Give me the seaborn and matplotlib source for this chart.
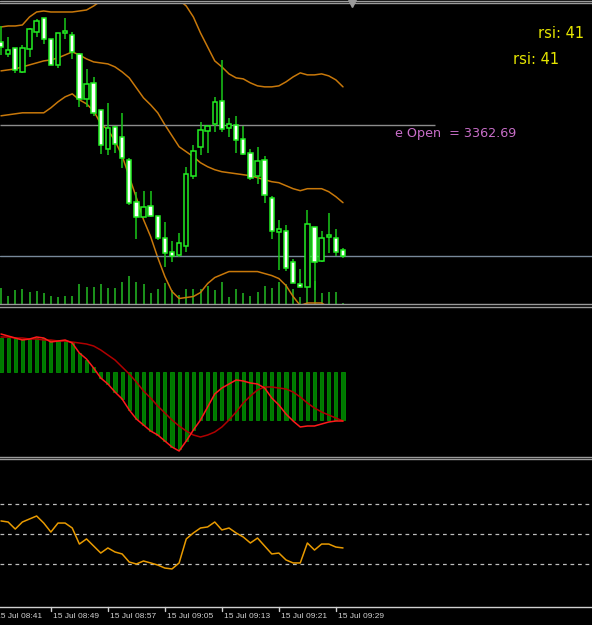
import matplotlib
matplotlib.use('Agg')
import matplotlib.pyplot as plt
import matplotlib.transforms as mtransforms
from matplotlib.lines import Line2D
import seaborn as sns
import numpy as np

# 1-minute bars, 15 Jul 08:42 .. 09:30
open_ = [3371.0, 3369.8, 3370.4, 3368.0, 3370.3, 3372.0, 3373.4, 3371.3, 3368.7, 3371.9,
         3371.7, 3369.8, 3365.3, 3366.9, 3364.2, 3360.3, 3362.5, 3361.5, 3359.2, 3355.0,
         3353.5, 3354.6, 3353.6, 3351.4, 3350.0, 3349.7, 3350.6, 3357.6, 3360.5, 3362.1,
         3362.8, 3365.1, 3362.4, 3362.7, 3361.3, 3359.9, 3357.6, 3359.2, 3355.4, 3352.0,
         3352.1, 3349.0, 3346.8, 3346.5, 3352.5, 3349.1, 3351.5, 3351.4, 3350.2]
high = [3372.6, 3371.5, 3370.4, 3370.7, 3372.4, 3373.3, 3373.4, 3371.3, 3371.9, 3373.4,
        3372.0, 3369.9, 3368.3, 3367.5, 3364.2, 3364.9, 3362.6, 3363.9, 3359.4, 3356.0,
        3356.1, 3356.1, 3353.6, 3353.0, 3351.1, 3351.9, 3358.5, 3360.7, 3363.0, 3362.6,
        3365.5, 3369.2, 3363.4, 3363.6, 3362.6, 3360.3, 3360.5, 3359.6, 3355.6, 3353.2,
        3352.7, 3349.3, 3348.3, 3354.2, 3352.5, 3352.1, 3353.9, 3352.3, 3350.4]
low = [3369.7, 3369.5, 3367.9, 3367.9, 3369.5, 3371.5, 3370.8, 3368.7, 3368.4, 3371.3,
       3369.3, 3364.5, 3364.5, 3363.6, 3359.8, 3359.7, 3359.9, 3358.4, 3354.7, 3351.3,
       3353.5, 3353.5, 3351.2, 3348.5, 3349.0, 3349.5, 3350.0, 3357.3, 3359.7, 3359.9,
       3362.0, 3362.0, 3361.5, 3359.9, 3359.7, 3357.2, 3356.8, 3354.9, 3351.3, 3348.2,
       3348.1, 3346.9, 3346.5, 3346.4, 3346.2, 3349.0, 3349.9, 3349.6, 3349.4]
close = [3370.5, 3370.2, 3368.2, 3370.4, 3372.3, 3373.1, 3371.3, 3368.7, 3371.9, 3372.1,
         3370.0, 3365.3, 3366.8, 3363.9, 3360.7, 3362.4, 3360.8, 3359.4, 3354.9, 3353.5,
         3354.5, 3353.6, 3351.4, 3349.9, 3349.6, 3350.9, 3357.8, 3360.1, 3362.2, 3362.6,
         3365.0, 3362.3, 3362.8, 3361.2, 3359.8, 3357.4, 3359.1, 3355.7, 3352.1, 3352.3,
         3348.4, 3346.9, 3346.5, 3352.8, 3349.0, 3351.4, 3351.5, 3350.0, 3349.6]
volume = [160, 80, 140, 150, 120, 130, 110, 80, 70, 80,
          80, 200, 170, 170, 200, 160, 160, 220, 280, 220,
          200, 110, 150, 210, 140, 90, 150, 150, 150, 180,
          140, 220, 70, 150, 110, 80, 120, 180, 160, 220,
          200, 150, 70, 190, 230, 110, 120, 120, 10]

# Bollinger bands
bb_upper = [3372.5, 3372.6, 3372.6, 3372.7, 3373.5, 3374.0, 3374.1, 3374.0, 3374.0, 3374.0,
            3374.0, 3374.1, 3374.2, 3374.6, 3375.1, 3375.5, 3375.8, 3376.0, 3376.2, 3376.3,
            3376.3, 3376.2, 3376.0, 3375.8, 3375.5, 3375.2, 3374.6, 3373.5, 3371.9, 3370.5,
            3369.1, 3368.5, 3367.8, 3367.4, 3367.3, 3366.9, 3366.6, 3366.5, 3366.5, 3366.6,
            3367.0, 3367.5, 3367.9, 3367.7, 3367.7, 3367.8, 3367.6, 3367.2, 3366.5]
bb_mid = [3368.1, 3368.2, 3368.3, 3368.5, 3368.7, 3368.9, 3369.1, 3369.2, 3369.4, 3369.7,
          3370.0, 3369.7, 3369.3, 3369.0, 3368.9, 3368.8, 3368.5, 3368.0, 3367.4, 3366.4,
          3365.4, 3364.7, 3363.9, 3362.7, 3361.6, 3360.5, 3360.0, 3359.5, 3358.9, 3358.5,
          3358.2, 3358.0, 3357.9, 3357.8, 3357.7, 3357.6, 3357.4, 3357.2, 3357.0, 3356.9,
          3356.6, 3356.3, 3356.1, 3356.3, 3356.3, 3356.3, 3356.0, 3355.5, 3354.9]
bb_lower = [3363.6, 3363.7, 3363.8, 3363.9, 3363.9, 3363.9, 3363.9, 3364.4, 3365.0, 3365.5,
            3365.8, 3365.2, 3364.8, 3364.1, 3362.8, 3362.2, 3361.1, 3359.6, 3357.5, 3355.4,
            3353.2, 3351.5, 3349.4, 3347.5, 3346.0, 3345.3, 3345.4, 3345.5, 3345.9, 3346.8,
            3347.4, 3347.7, 3348.0, 3348.0, 3348.0, 3348.0, 3348.0, 3347.8, 3347.6, 3347.3,
            3346.6, 3345.5, 3344.6, 3344.85, 3344.85, 3344.85, 3344.4, 3344.1, 3343.9]

# MACD
macd_main = [0.38, 0.36, 0.34, 0.32, 0.33, 0.35, 0.34, 0.30, 0.31, 0.32,
             0.29, 0.19, 0.13, 0.04, -0.06, -0.12, -0.20, -0.27, -0.38, -0.47,
             -0.53, -0.59, -0.63, -0.69, -0.75, -0.79, -0.69, -0.58, -0.48, -0.35,
             -0.22, -0.16, -0.12, -0.08, -0.09, -0.11, -0.12, -0.16, -0.26, -0.33,
             -0.42, -0.49, -0.55, -0.54, -0.54, -0.52, -0.50, -0.49, -0.49]
macd_signal = [0.35, 0.35, 0.34, 0.34, 0.33, 0.33, 0.32, 0.32, 0.31, 0.31,
               0.30, 0.29, 0.28, 0.26, 0.22, 0.17, 0.12, 0.05, -0.02, -0.10,
               -0.19, -0.26, -0.34, -0.41, -0.48, -0.54, -0.59, -0.63, -0.65, -0.63,
               -0.60, -0.55, -0.48, -0.40, -0.31, -0.24, -0.18, -0.15, -0.15, -0.16,
               -0.17, -0.20, -0.25, -0.31, -0.36, -0.40, -0.43, -0.46, -0.49]
macd_hist = [0.34, 0.34, 0.34, 0.33, 0.33, 0.34, 0.34, 0.32, 0.31, 0.31,
             0.30, 0.19, 0.12, 0.05, -0.06, -0.12, -0.20, -0.27, -0.38, -0.47,
             -0.53, -0.59, -0.63, -0.69, -0.75, -0.77, -0.69, -0.58, -0.48, -0.48,
             -0.48, -0.48, -0.48, -0.48, -0.48, -0.48, -0.48, -0.48, -0.48, -0.48,
             -0.48, -0.48, -0.48, -0.48, -0.48, -0.48, -0.48, -0.48, -0.48]

# RSI
rsi = [58.7, 58.0, 53.3, 58.0, 60.0, 62.0, 57.3, 51.3, 57.3, 57.3,
       54.0, 43.3, 46.7, 42.0, 37.3, 40.7, 38.0, 36.7, 31.3, 30.0,
       32.0, 30.7, 29.3, 27.3, 26.7, 30.7, 46.7, 50.7, 54.0, 54.7,
       58.0, 52.7, 54.0, 50.7, 48.0, 44.0, 47.3, 42.0, 36.7, 37.3,
       32.7, 30.7, 30.7, 44.0, 39.3, 43.3, 43.3, 41.3, 40.7]
rsi_levels = [70, 50, 30]

tick_bars = [-1, 7, 15, 23, 31, 39, 47]
tick_labels = ['15 Jul 08:41', '15 Jul 08:49', '15 Jul 08:57', '15 Jul 09:05',
               '15 Jul 09:13', '15 Jul 09:21', '15 Jul 09:29']
open_price_line = 3362.69

sns.set_theme(style='dark', rc={'axes.facecolor': 'black', 'figure.facecolor': 'black',
                                'axes.grid': False})
plt.rcParams['font.family'] = ['DejaVu Sans']

W, H = 592, 625
fig = plt.figure(figsize=(W / 100, H / 100), dpi=100)

def frac(top, bottom):
    return [0, 1 - bottom / H, 1, (bottom - top) / H]

ax_p = fig.add_axes(frac(3, 304))
ax_m = fig.add_axes(frac(307, 457))
ax_r = fig.add_axes(frac(459, 607))

x = np.arange(len(close))
xlim = (-1 / 7.125, 591 / 7.125)
sep = '#9a9a9a'
for ax in (ax_p, ax_m, ax_r):
    ax.set_facecolor('black')
    ax.set_xlim(*xlim)
    for s in ax.spines.values():
        s.set_visible(False)
    for s in ('top', 'bottom'):
        ax.spines[s].set_visible(True)
        ax.spines[s].set_color(sep)
        ax.spines[s].set_linewidth(1)
    ax.set_yticks([])
    ax.set_xticks([])

# outer top border (double line)
fig.add_artist(Line2D([0, 1], [1 - 1 / H, 1 - 1 / H], color=sep, linewidth=1))

# ---- price panel ----
ax_p.set_ylim(3344.75, 3374.9)
ax_v = ax_p.twinx()
ax_v.set_ylim(0, 3010)
ax_v.set_yticks([])
for s in ax_v.spines.values():
    s.set_visible(False)
ax_v.vlines(x, 0, volume, color='#1ea01e', linewidth=1.3)

for band in (bb_upper, bb_mid, bb_lower):
    sns.lineplot(x=x, y=band, ax=ax_p, color='#c8780a', linewidth=1.1)

ax_p.hlines(open_price_line, xlim[0], (435 - 1) / 7.125, color='#8c8c8c', linewidth=1)
ax_p.axhline(close[-1], color='#778899', linewidth=1)

o = np.array(open_); c = np.array(close)
bull = c >= o
ax_p.vlines(x, low, high, color='#19c819', linewidth=1.1, zorder=3)
body_lo = np.minimum(o, c); body_h = np.abs(c - o)
body_h = np.where(body_h < 0.15, 0.15, body_h)
ax_p.bar(x[bull], body_h[bull], bottom=body_lo[bull], width=0.62,
         color='black', edgecolor='#22ee22', linewidth=1.1, zorder=4)
ax_p.bar(x[~bull], body_h[~bull], bottom=body_lo[~bull], width=0.62,
         color='white', edgecolor='#22ee22', linewidth=1.1, zorder=4)
ax_p.set_zorder(ax_v.get_zorder() + 1)
ax_p.patch.set_visible(False)
ax_p.set_xlim(*xlim)

# chart shift marker
ax_p.plot([(352 - 1) / 7.125], [3374.9], marker='v', markersize=6, color='#9a9a9a',
          clip_on=False, zorder=6)

# ---- MACD panel ----
ax_m.set_ylim(-0.85, 0.65)
ax_m.bar(x, macd_hist, width=0.45, color='#007800', edgecolor='#00a000', linewidth=0.5)
sns.lineplot(x=x, y=macd_signal, ax=ax_m, color='#b00000', linewidth=1.1)
sns.lineplot(x=x, y=macd_main, ax=ax_m, color='#ff1a1a', linewidth=1.1)
ax_m.set_xlim(*xlim)

# ---- RSI panel ----
ax_r.set_ylim(1.33, 100)
for lv in rsi_levels:
    ax_r.axhline(lv, color='#bdbdbd', linewidth=0.9, linestyle=(0, (3, 3)))
sns.lineplot(x=x, y=rsi, ax=ax_r, color='#e89a00', linewidth=1.1)
ax_r.set_xlim(*xlim)
ax_r.spines['bottom'].set_color('#d0d0d0')

# time axis: tick marks below the RSI panel, labels to the right of each tick
tick_tr = mtransforms.blended_transform_factory(ax_r.transData, fig.transFigure)
for tb, lab in zip(tick_bars, tick_labels):
    ax_r.plot([tb, tb], [1 - 607 / H, 1 - 611 / H], color='#d0d0d0', linewidth=1,
              transform=tick_tr, clip_on=False)
    ax_r.text(tb, 1 - 616.5 / H, lab, transform=tick_tr + mtransforms.ScaledTranslation(
              2 / 100, 0, fig.dpi_scale_trans), ha='left', va='center', color='#d0d0d0',
              fontsize=6, family=['Liberation Sans', 'DejaVu Sans'], clip_on=False)
for ax in (ax_p, ax_m, ax_r):
    ax.set_xlabel(''); ax.set_ylabel('')

# labels
fig.text(538 / W, 1 - 33 / H, 'rsi: 41', color='#e6e600', fontsize=10.5, va='center')
fig.text(513 / W, 1 - 59 / H, 'rsi: 41', color='#e6e600', fontsize=10.5, va='center')
fig.text(395 / W, 1 - 133 / H, 'e Open  = 3362.69', color='#c86ec8', fontsize=9.2,
         va='center')

fig.savefig('out.png', dpi=100, facecolor='black')
